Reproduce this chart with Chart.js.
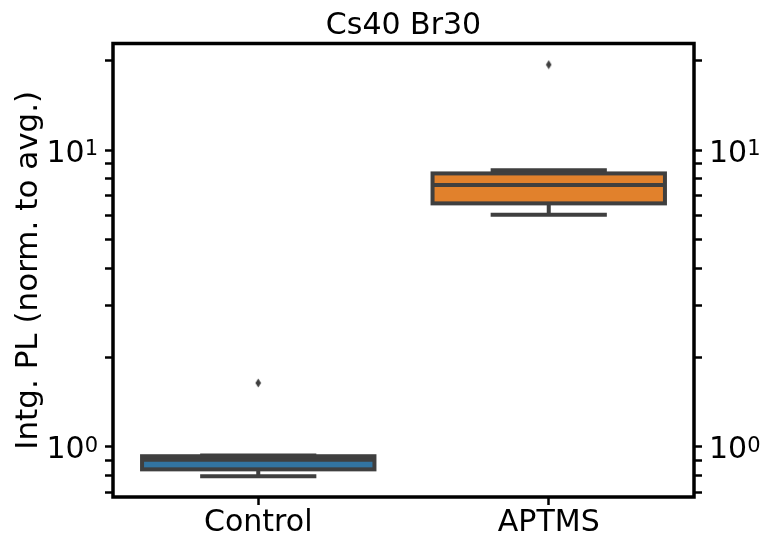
<!DOCTYPE html>
<html>
<head>
<meta charset="utf-8">
<title>Cs40 Br30</title>
<script src="https://cdn.jsdelivr.net/npm/chart.js@4.4.1/dist/chart.umd.min.js"></script>
<style>
  html, body { margin: 0; padding: 0; background: #ffffff; }
  #wrap { width: 764px; height: 541px; }
</style>
</head>
<body>
<div id="wrap"><canvas id="chart" width="764" height="541"></canvas></div>
<script>
// Box-plot summary per group (integrated PL, normalised to the average)
const categories   = ['Control', 'APTMS'];
const q1           = [0.839, 6.61];
const q3           = [0.929, 8.34];
const medians      = [0.904, 7.63];
const whiskerLow   = [0.795, 6.05];
const whiskerHigh  = [0.935, 8.54];
const outliers     = [1.64, 19.4];
const boxColors    = ['#3274a1', '#e1812c'];

// Log-axis tick positions; decades get a "10^n" label
const tickValues   = [0.7, 0.8, 0.9, 1, 2, 3, 4, 5, 6, 7, 8, 9, 10, 20];
const decadeTicks  = [1, 10];
const decadeBase   = ['10', '10'];
const decadeExp    = ['0', '1'];

const LINE = '#3f3f3f';
const LINE_W = 4;
const FONT = 'DejaVu Sans';
const TICK_LEN = 8;
const TICK_PAD = 7;

// Thin diamond marker for fliers
function diamondMarker() {
  const c = document.createElement('canvas');
  c.width = 7; c.height = 10;
  const g = c.getContext('2d');
  g.fillStyle = LINE;
  g.beginPath();
  g.moveTo(3.5, 0.5); g.lineTo(6.3, 5); g.lineTo(3.5, 9.5); g.lineTo(0.7, 5);
  g.closePath(); g.fill();
  return c;
}

// Box outlines, whiskers, caps and median lines, placed with the chart's own scales
const boxDetails = {
  id: 'boxDetails',
  afterDatasetsDraw(chart) {
    const ctx = chart.ctx;
    const xs = chart.scales.x, ys = chart.scales.y;
    const bars = chart.getDatasetMeta(0).data;
    ctx.save();
    ctx.strokeStyle = LINE;
    ctx.lineWidth = LINE_W;
    ctx.lineCap = 'butt';
    ctx.lineJoin = 'miter';
    categories.forEach((c, i) => {
      const cx = xs.getPixelForValue(i);
      const half = bars[i].width / 2;
      const capHalf = half / 2;
      const yq1 = ys.getPixelForValue(q1[i]);
      const yq3 = ys.getPixelForValue(q3[i]);
      const ylo = ys.getPixelForValue(whiskerLow[i]);
      const yhi = ys.getPixelForValue(whiskerHigh[i]);
      const ymed = ys.getPixelForValue(medians[i]);
      ctx.beginPath();
      ctx.moveTo(cx, yq3); ctx.lineTo(cx, yhi);
      ctx.moveTo(cx - capHalf, yhi); ctx.lineTo(cx + capHalf, yhi);
      ctx.moveTo(cx, yq1); ctx.lineTo(cx, ylo);
      ctx.moveTo(cx - capHalf, ylo); ctx.lineTo(cx + capHalf, ylo);
      ctx.moveTo(cx - half, ymed); ctx.lineTo(cx + half, ymed);
      ctx.stroke();
      ctx.strokeRect(cx - half, yq3, 2 * half, yq1 - yq3);
    });
    ctx.restore();
  }
};

// Decade labels with a raised exponent, on both log axes
const decadeLabels = {
  id: 'decadeLabels',
  afterDraw(chart) {
    const ctx = chart.ctx;
    ctx.save();
    ctx.fillStyle = '#000000';
    ctx.textBaseline = 'alphabetic';
    ['y', 'y2'].forEach(id => {
      const s = chart.scales[id];
      decadeTicks.forEach((v, k) => {
        const py = s.getPixelForValue(v);
        ctx.font = '21px "' + FONT + '"';
        const expW = ctx.measureText(decadeExp[k]).width;
        ctx.font = '30px "' + FONT + '"';
        const baseW = ctx.measureText(decadeBase[k]).width;
        let x0;
        if (s.position === 'left') {
          x0 = s.right - TICK_LEN - TICK_PAD - expW - baseW;
        } else {
          x0 = s.left + TICK_LEN + TICK_PAD;
        }
        ctx.textAlign = 'left';
        ctx.font = '30px "' + FONT + '"';
        ctx.fillText(decadeBase[k], x0, py + 11.5);
        ctx.font = '21px "' + FONT + '"';
        ctx.fillText(decadeExp[k], x0 + baseW, py + 5);
      });
    });
    ctx.restore();
  }
};

// Black frame round the plotting area
const frame = {
  id: 'frame',
  afterDraw(chart) {
    const a = chart.chartArea, ctx = chart.ctx;
    ctx.save();
    ctx.strokeStyle = '#000000';
    ctx.lineWidth = 3.5;
    ctx.strokeRect(a.left, a.top, a.right - a.left, a.bottom - a.top);
    ctx.restore();
  }
};

function logAxis(position, width) {
  return {
    type: 'logarithmic',
    position: position,
    min: 0.677,
    max: 22.86,
    afterBuildTicks(scale) {
      scale.ticks = tickValues.map(v => ({ value: v }));
    },
    afterFit(scale) { scale.width = width; },
    ticks: {
      autoSkip: false,
      padding: TICK_PAD,
      callback: () => ''
    },
    grid: {
      drawOnChartArea: false,
      drawTicks: true,
      tickLength: TICK_LEN,
      tickWidth: 2.5,
      tickColor: '#000000'
    },
    border: { display: false }
  };
}

const yLeft = logAxis('left', 113);
yLeft.title = {
  display: true,
  text: 'Intg. PL (norm. to avg.)',
  color: '#000000',
  font: { family: FONT, size: 31, lineHeight: 1.2 },
  padding: { top: 10, bottom: 0 }
};
const yRight = logAxis('right', 70);

new Chart(document.getElementById('chart'), {
  data: {
    labels: categories,
    datasets: [
      {
        type: 'bar',
        data: q1.map((v, i) => [v, q3[i]]),
        backgroundColor: boxColors,
        borderWidth: 0,
        barPercentage: 0.8,
        categoryPercentage: 1.0,
        yAxisID: 'y',
        order: 2
      },
      {
        type: 'scatter',
        data: categories.map((c, i) => ({ x: c, y: outliers[i] })),
        pointStyle: diamondMarker(),
        pointRadius: 4,
        showLine: false,
        yAxisID: 'y',
        order: 1
      }
    ]
  },
  options: {
    responsive: false,
    animation: false,
    devicePixelRatio: 1,
    layout: { padding: 0 },
    plugins: {
      legend: { display: false },
      tooltip: { enabled: false },
      title: {
        display: true,
        text: 'Cs40 Br30',
        color: '#000000',
        fullSize: false,
        font: { family: FONT, size: 30, weight: 'normal', lineHeight: 1.1 },
        padding: { top: 10, bottom: 0.5 }
      }
    },
    scales: {
      x: {
        type: 'category',
        position: 'bottom',
        afterFit(scale) { scale.height = 44; },
        ticks: {
          padding: 0,
          color: '#000000',
          font: { family: FONT, size: 30, lineHeight: 1.2 }
        },
        grid: {
          drawOnChartArea: false,
          drawTicks: true,
          tickLength: TICK_LEN,
          tickWidth: 2.5,
          tickColor: '#000000',
          offset: false
        },
        border: { display: false }
      },
      y: yLeft,
      y2: yRight
    }
  },
  plugins: [boxDetails, decadeLabels, frame]
});
</script>
</body>
</html>
